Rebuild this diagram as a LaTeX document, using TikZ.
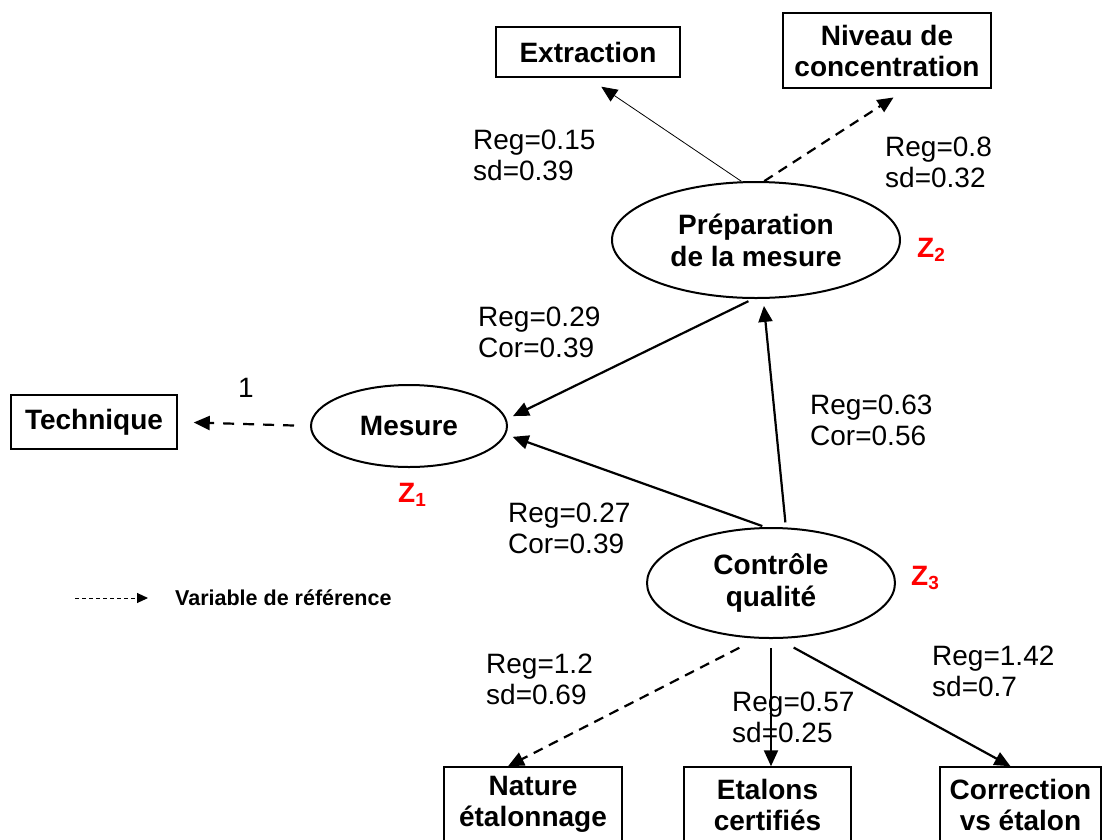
\documentclass[tikz,border=0pt]{standalone}
\usepackage{fontspec}
\setmainfont{Liberation Sans}
\usetikzlibrary{arrows.meta,shapes.geometric}

\tikzset{
  obs/.style={draw, line width=1.5pt, inner sep=0pt, align=center, font=\fontsize{28}{31}\selectfont\bfseries},
  lat/.style={draw, ellipse, line width=2pt, inner sep=0pt, align=center, font=\fontsize{28}{32}\selectfont\bfseries},
  regarrow/.style={line width=2.2pt, -{Triangle[length=16pt,width=14pt]}},
  refarrow/.style={regarrow, dash pattern=on 10pt off 7pt},
  coef/.style={inner sep=0pt, align=left, anchor=west, font=\fontsize{28}{31}\selectfont},
  zlab/.style={inner sep=0pt, text=red, font=\fontsize{28}{28}\selectfont\bfseries}
}
\newcommand{\zsub}[1]{Z\raisebox{-0.3ex}{\fontsize{19}{19}\selectfont #1}}

\begin{document}
\begin{tikzpicture}[x=1pt,y=-1pt]
\useasboundingbox (0,0) rectangle (1106,839);

%Latent variables
\node[lat, minimum width=288pt, minimum height=116pt] (prep) at (756,240) {Préparation\\de la mesure};
\node[lat, minimum width=196pt, minimum height=82pt] (mes) at (409,426) {Mesure};
\node[lat, minimum width=248pt, minimum height=110pt] (ctrl) at (771,583) {Contrôle\\qualité};

%Observed variables
\node[obs, minimum width=184pt, minimum height=50pt] (extr) at (588,52) {Extraction};
\node[obs, minimum width=208pt, minimum height=75pt] (niv) at (887,50.5) {Niveau de\\concentration};
\node[obs, minimum width=166pt, minimum height=54pt] (tech) at (94,422) {Technique};
\node[obs, minimum width=178pt, minimum height=75pt] (nat) at (533,804.5) {Nature\\étalonnage};
\node[obs, minimum width=167pt, minimum height=75pt] (etal) at (767.5,804.5) {Etalons\\certifiés};
\node[obs, minimum width=161pt, minimum height=75pt] (corr) at (1020.5,804.5) {Correction\\vs étalon};

%Paths
\draw[regarrow, line width=0.8pt, shorten >=16pt] (prep.104) -- (extr.south);
\draw[refarrow, shorten >=16pt] (prep.82) -- ([xshift=20pt]niv.south);
\draw[refarrow, dash pattern=on 11pt off 9pt, shorten <=16pt, shorten >=16pt] (mes.west) -- (tech.east);
\draw[regarrow, shorten <=5pt, shorten >=7pt] (prep.267) -- (mes.4);
\draw[regarrow, shorten <=3pt, shorten >=7pt] (ctrl.96) -- (mes.355);
\draw[regarrow, shorten <=5pt, shorten >=7pt] (ctrl.75) -- (prep.277);
\draw[refarrow, shorten <=20pt] (ctrl.256) -- ([xshift=-25pt]nat.north);
\draw[regarrow, shorten <=9pt] (ctrl.south) -- (ctrl.south |- etal.north);
\draw[regarrow, shorten <=18pt] (ctrl.277) -- ([xshift=-10pt]corr.north);

%Coefficients
\node[coef] (c1) at (473,155) {Reg=0.15\\sd=0.39};
\node[coef] (c2) at (885,162) {Reg=0.8\\sd=0.32};
\node[coef] (c3) at (478,332) {Reg=0.29\\Cor=0.39};
\node[coef] (c4) at (810,420) {Reg=0.63\\Cor=0.56};
\node[coef] (c5) at (508,528) {Reg=0.27\\Cor=0.39};
\node[coef] (c6) at (486,679) {Reg=1.2\\sd=0.69};
\node[coef] (c7) at (732,717) {Reg=0.57\\sd=0.25};
\node[coef] (c8) at (932,671) {Reg=1.42\\sd=0.7};
\node[coef, anchor=center] (one) at (246,388) {1};

%Residuals
\node[zlab] (z1) at (412,495) {\zsub{1}};
\node[zlab] (z2) at (931,250) {\zsub{2}};
\node[zlab] (z3) at (925,578) {\zsub{3}};

%Legend
\coordinate (lgs) at (75,598);
\coordinate (lge) at (148,598);
\draw[line width=1pt, dash pattern=on 4pt off 3pt, -{Triangle[length=11pt,width=10pt]}] (lgs) -- (lge);
\node[inner sep=0pt, anchor=west, font=\fontsize{21.5}{21.5}\selectfont\bfseries] (lgt) at (175,598) {Variable de référence};

\end{tikzpicture}
\end{document}
